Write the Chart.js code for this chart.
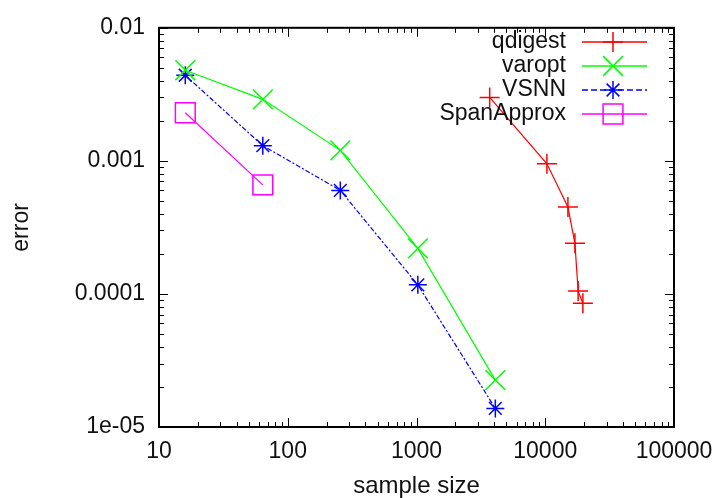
<!DOCTYPE html>
<html>
<head>
<meta charset="utf-8">
<script src="https://cdn.jsdelivr.net/npm/chart.js@4.4.1/dist/chart.umd.min.js"></script>
<style>
  html, body { margin:0; padding:0; background:#fff; }
  #c { display:block; }
</style>
</head>
<body>
<canvas id="c" width="719" height="498"></canvas>
<script>
// values (log-log plot)
const qdigestX = [3700, 10300, 15000, 17000, 18000, 19600];
const qdigestY = [0.0030, 0.00095, 0.00045, 0.00024, 0.000105, 0.000085];
const varoptX  = [16, 64, 256, 1024, 4096];
const varoptY  = [0.0048, 0.0029, 0.0012, 0.00022, 0.0000225];
const vsnnX    = [16, 64, 256, 1024, 4096];
const vsnnY    = [0.0044, 0.0013, 0.0006, 0.000117, 0.0000138];
const spanX    = [16, 64];
const spanY    = [0.0023, 0.00066];

const seriesNames = ['qdigest', 'varopt', 'VSNN', 'SpanApprox'];
const xTickValues = [10, 100, 1000, 10000, 100000];
const xTickLabels = ['10', '100', '1000', '10000', '100000'];
const yTickValues = [0.01, 0.001, 0.0001, 0.00001];
const yTickLabels = ['0.01', '0.001', '0.0001', '1e-05'];

const FONT = 'Liberation Sans, Arial, sans-serif';
const pts = (xs, ys) => xs.map((x, i) => ({ x, y: ys[i] }));

const styles = [
  { color:'#ff0000', pointStyle:'cross',    radius:10, dash:[] },
  { color:'#00ff00', pointStyle:'crossRot', radius:14, dash:[] },
  { color:'#0000ff', pointStyle:'star',     radius:9,  dash:[5,2,2,2] },
  { color:'#ff00ff', pointStyle:'rect',     radius:14, dash:[] }
];
const seriesData = [pts(qdigestX, qdigestY), pts(varoptX, varoptY), pts(vsnnX, vsnnY), pts(spanX, spanY)];

const datasets = seriesNames.map((name, i) => ({
  label: name,
  data: seriesData[i],
  borderColor: styles[i].color,
  backgroundColor: 'rgba(0,0,0,0)',
  borderWidth: 1.2,
  borderDash: styles[i].dash,
  pointStyle: styles[i].pointStyle,
  pointRadius: styles[i].radius,
  pointBorderWidth: 1.5,
  pointBorderColor: styles[i].color,
  pointBackgroundColor: 'rgba(0,0,0,0)',
  tension: 0
}));

// gnuplot style frame with inward ticks on all four sides
const frameTicks = {
  id: 'frameTicks',
  afterDraw(chart) {
    const { ctx, chartArea: a, scales: { x, y } } = chart;
    ctx.save();
    ctx.strokeStyle = '#000';
    ctx.lineWidth = 1;
    const seg = (x1, y1, x2, y2) => { ctx.beginPath(); ctx.moveTo(x1, y1); ctx.lineTo(x2, y2); ctx.stroke(); };
    for (let e = 1; e <= 5; e++) {
      for (let m = 1; m <= 9; m++) {
        const v = m * Math.pow(10, e);
        if (v > 100000) break;
        const px = Math.round(x.getPixelForValue(v)) + 0.5;
        const L = m === 1 ? 9 : 5;
        seg(px, a.bottom, px, a.bottom - L);
        seg(px, a.top, px, a.top + L);
      }
    }
    for (let e = -5; e <= -2; e++) {
      for (let m = 1; m <= 9; m++) {
        const v = m * Math.pow(10, e);
        if (v > 0.0100001) break;
        const py = Math.round(y.getPixelForValue(v)) + 0.5;
        const L = m === 1 ? 9 : 5;
        seg(a.left, py, a.left + L, py);
        seg(a.right, py, a.right - L, py);
      }
    }
    ctx.lineWidth = 2;
    ctx.strokeRect(a.left, a.top, a.right - a.left, a.bottom - a.top);
    ctx.restore();
  }
};

// legend inside the plot, text right aligned, sample to its right
const insideLegend = {
  id: 'insideLegend',
  afterDatasetsDraw(chart) {
    const { ctx } = chart;
    const textRight = 566, lineL = 582, lineR = 647, mark = 613;
    ctx.save();
    ctx.font = '23px ' + FONT;
    ctx.textAlign = 'right';
    ctx.textBaseline = 'middle';
    chart.data.datasets.forEach((ds, i) => {
      const yy = 42 + i * 24;
      ctx.fillStyle = '#111';
      ctx.fillText(ds.label, textRight, yy);
      ctx.strokeStyle = ds.borderColor;
      ctx.lineWidth = 1.5;
      ctx.setLineDash(ds.borderDash.length ? [6, 3] : []);
      ctx.beginPath(); ctx.moveTo(lineL, yy); ctx.lineTo(lineR, yy); ctx.stroke();
      ctx.setLineDash([]);
      ctx.fillStyle = 'rgba(0,0,0,0)';
      Chart.helpers.drawPoint(ctx, { pointStyle: ds.pointStyle, radius: ds.pointRadius, borderWidth: 1.5, rotation: 0 }, mark, yy);
    });
    ctx.restore();
  }
};

new Chart(document.getElementById('c').getContext('2d'), {
  type: 'line',
  data: { datasets },
  plugins: [frameTicks, insideLegend],
  options: {
    responsive: false,
    devicePixelRatio: 1,
    animation: false,
    layout: { padding: { top: 24, right: 45, left: 0, bottom: 0 } },
    plugins: { legend: { display: false }, tooltip: { enabled: false } },
    scales: {
      x: {
        type: 'logarithmic', min: 10, max: 100000,
        afterBuildTicks: s => { s.ticks = xTickValues.map(v => ({ value: v })); },
        afterFit: s => { s.height = 71; s.paddingRight = 0; s.paddingLeft = 0; },
        grid: { display: false, drawTicks: false },
        border: { display: false },
        ticks: {
          autoSkip: false, maxRotation: 0, padding: 11, color: '#111',
          font: { family: FONT, size: 23 },
          callback: v => xTickLabels[xTickValues.indexOf(v)]
        },
        title: { display: true, text: 'sample size', color: '#111', font: { family: FONT, size: 24 }, padding: { top: 0, bottom: -3 } }
      },
      y: {
        type: 'logarithmic', min: 0.00001, max: 0.01,
        afterBuildTicks: s => { s.ticks = yTickValues.map(v => ({ value: v })); },
        afterFit: s => { s.width = 159; },
        grid: { display: false, drawTicks: false },
        border: { display: false },
        ticks: {
          autoSkip: false, padding: 14, color: '#111',
          font: { family: FONT, size: 23 },
          callback: v => yTickLabels[yTickValues.findIndex(t => Math.abs(t - v) / t < 1e-6)]
        },
        title: { display: true, text: 'error', color: '#111', font: { family: FONT, size: 23 }, padding: { top: 8, bottom: 0 } }
      }
    }
  }
});
</script>
</body>
</html>
